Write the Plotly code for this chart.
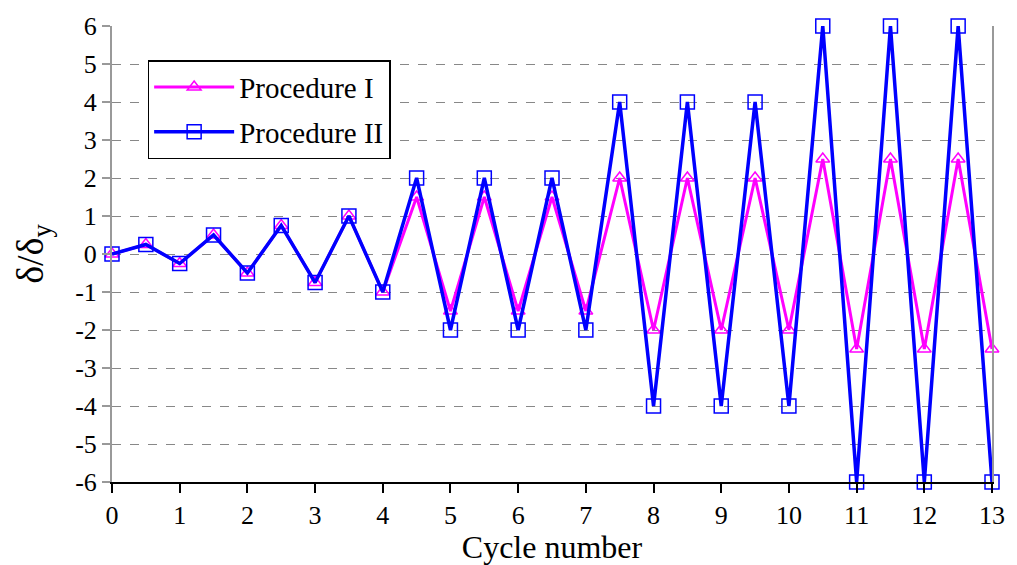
import plotly.graph_objects as go

cycles = [i * 0.5 for i in range(27)]
proc1 = [0, 0.25, -0.25, 0.5, -0.5, 0.75, -0.75, 1, -1,
         1.5, -1.5, 1.5, -1.5, 1.5, -1.5,
         2, -2, 2, -2, 2, -2,
         2.5, -2.5, 2.5, -2.5, 2.5, -2.5]
proc2 = [0, 0.25, -0.25, 0.5, -0.5, 0.75, -0.75, 1, -1,
         2, -2, 2, -2, 2, -2,
         4, -4, 4, -4, 4, -4,
         6, -6, 6, -6, 6, -6]
xticks = list(range(0, 14))
yticks = list(range(-6, 7))

FONT = "Liberation Serif"

fig = go.Figure()
fig.add_trace(go.Scatter(
    x=cycles, y=proc1, name="Procedure I", mode="lines+markers",
    legendgroup="a",
    line=dict(color="#FF00FF", width=3),
    marker=dict(symbol="triangle-up-open", size=12, color="#FF00FF", line=dict(width=1.5)),
    cliponaxis=False,
))
fig.add_trace(go.Scatter(
    x=cycles, y=proc2, name="Procedure II", mode="lines+markers",
    legendgroup="b",
    line=dict(color="#0000FF", width=3.5),
    marker=dict(symbol="square-open", size=14, color="#0000FF", line=dict(width=1.5)),
    cliponaxis=False,
))

fig.update_layout(
    width=1017, height=565,
    margin=dict(l=112, r=16, t=23, b=79),
    paper_bgcolor="white", plot_bgcolor="white",
    font=dict(family=FONT, size=26, color="black"),
    showlegend=True,
    legend=dict(
        x=0.0405, y=0.925, xanchor="left", yanchor="top",
        bgcolor="white", bordercolor="black", borderwidth=1.5,
        font=dict(family=FONT, size=29, color="black"),
        itemwidth=80, tracegroupgap=4,
    ),
    xaxis=dict(
        range=[0, 13], tickvals=xticks, ticktext=[str(v) for v in xticks],
        showgrid=False, zeroline=False,
        showline=True, linecolor="black", linewidth=2,
        ticks="outside", ticklen=9, tickwidth=2, tickcolor="black",
        tickfont=dict(family=FONT, size=26, color="black"),
        title=dict(text="Cycle number", font=dict(family=FONT, size=32, color="black"), standoff=0),
    ),
    yaxis=dict(
        range=[-6, 6], tickvals=yticks, ticktext=[str(v) for v in yticks],
        showgrid=True, gridcolor="#888888", griddash="dash", gridwidth=1.3,
        zeroline=False,
        showline=True, linecolor="#999999", linewidth=2, mirror=True,
        ticks="outside", ticklen=8, tickwidth=2, tickcolor="#999999",
        tickfont=dict(family=FONT, size=26, color="black"),
        title=dict(text="δ/δ<sub>y</sub>", font=dict(family=FONT, size=38, color="black"), standoff=20),
    ),
)

fig.write_html("out.html")
